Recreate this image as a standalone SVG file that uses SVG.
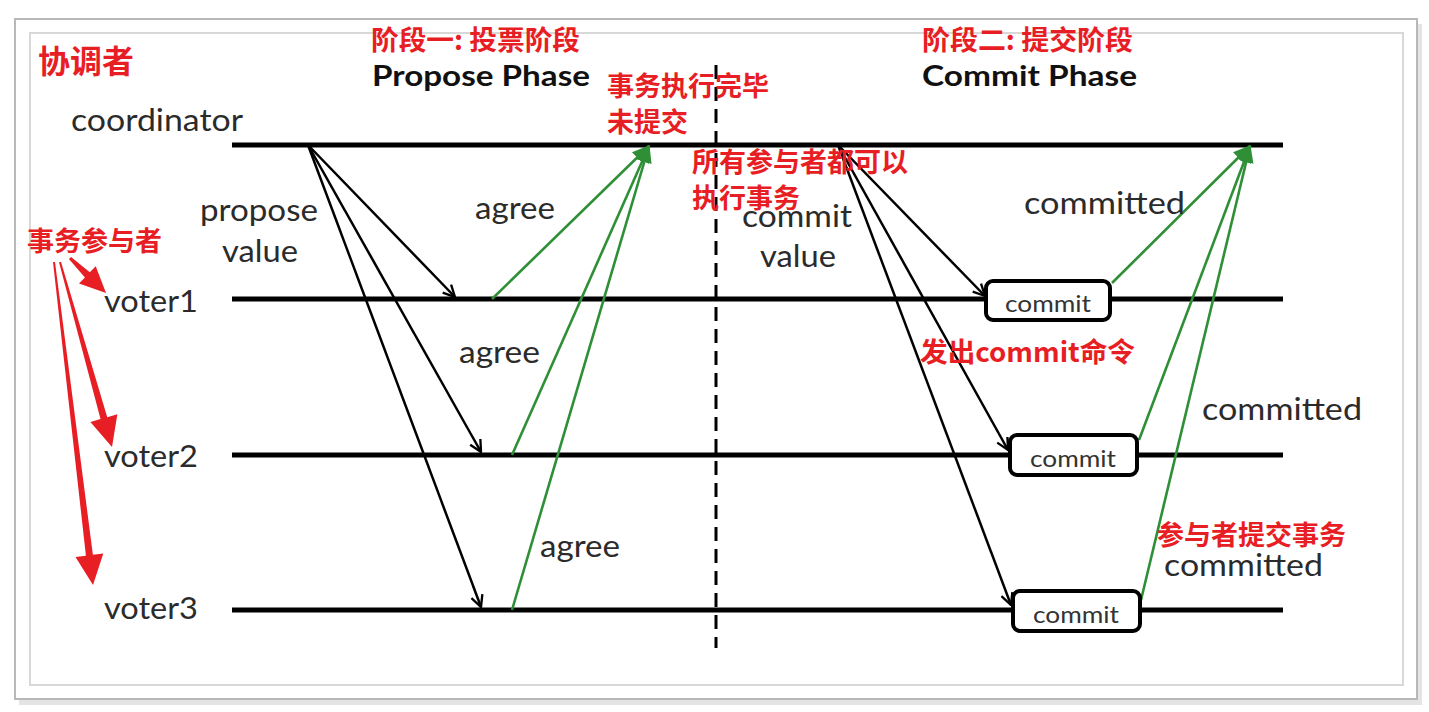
<svg xmlns="http://www.w3.org/2000/svg" width="1429" height="712" viewBox="0 0 1429 712">
<style>
.lbl{font-family:Lato,"Liberation Sans",sans-serif;font-size:30px;fill:#2b2b2b}
.hd{font-family:Lato,"Liberation Sans",sans-serif;font-size:28px;font-weight:bold;fill:#111}
.box-t{font-family:Lato,"Liberation Sans",sans-serif;font-size:23px;fill:#333}
.red{font-family:"Noto Sans CJK SC","Noto Sans",sans-serif;font-size:27px;font-weight:bold;fill:#e81e25}
.life{stroke:#000;stroke-width:5;fill:none}
.blk{stroke:#000;stroke-width:2.5;fill:none;marker-end:url(#ah)}
.grn{stroke:#2f8f37;stroke-width:2.6;fill:none;marker-end:url(#gh)}
.box{fill:#fff;stroke:#000;stroke-width:4}
.redarrow{fill:#e81e25}
</style>
<defs>
<marker id="ah" viewBox="0 0 12 12" refX="11" refY="6" markerWidth="14" markerHeight="14" markerUnits="userSpaceOnUse" orient="auto">
<path d="M1,1 L11,6 L1,11" fill="none" stroke="#000" stroke-width="2"/>
</marker>
<marker id="gh" viewBox="0 0 12 12" refX="11" refY="6" markerWidth="18" markerHeight="18" markerUnits="userSpaceOnUse" orient="auto">
<path d="M0,1 L12,6 L0,11 Z" fill="#2f8f37"/>
</marker>
</defs>
<rect x="0" y="0" width="1429" height="712" fill="#fff"/>
<g id="frame">
<rect x="19" y="24" width="1403" height="681" fill="#e4e4e4"/>
<rect x="15" y="19" width="1402" height="680" fill="#fff" stroke="#b8b8b8" stroke-width="2"/>
<rect x="30" y="33" width="1373" height="652" fill="#fff" stroke="#d8d8d8" stroke-width="2"/>
</g>
<g id="headers">
<text class="hd" x="372" y="86" textLength="218" lengthAdjust="spacingAndGlyphs">Propose Phase</text>
<text class="hd" x="922" y="86" textLength="215" lengthAdjust="spacingAndGlyphs">Commit Phase</text>
</g>
<g id="coordinator">
<line class="life" x1="232" y1="145" x2="1283" y2="145"/>
<text class="lbl" x="71" y="131" textLength="172" lengthAdjust="spacingAndGlyphs">coordinator</text>
</g>
<g id="voter1">
<line class="life" x1="232" y1="299" x2="1283" y2="299"/>
<text class="lbl" x="104" y="312" textLength="94" lengthAdjust="spacingAndGlyphs">voter1</text>
</g>
<g id="voter2">
<line class="life" x1="232" y1="455" x2="1283" y2="455"/>
<text class="lbl" x="104" y="467" textLength="94" lengthAdjust="spacingAndGlyphs">voter2</text>
</g>
<g id="voter3">
<line class="life" x1="232" y1="610" x2="1283" y2="610"/>
<text class="lbl" x="104" y="619" textLength="94" lengthAdjust="spacingAndGlyphs">voter3</text>
</g>
<g id="divider">
<line x1="716" y1="65" x2="716" y2="648" stroke="#000" stroke-width="3" stroke-dasharray="14 8"/>
</g>
<g id="connectors">
<line class="blk" x1="308" y1="145" x2="455" y2="297"/>
<line class="blk" x1="308" y1="145" x2="481" y2="452"/>
<line class="blk" x1="308" y1="145" x2="481" y2="607"/>
<line class="grn" x1="492" y1="299" x2="649" y2="146"/>
<line class="grn" x1="512" y1="455" x2="649" y2="146"/>
<line class="grn" x1="512" y1="610" x2="649" y2="146"/>
<line class="blk" x1="838" y1="145" x2="985" y2="296"/>
<line class="blk" x1="838" y1="145" x2="1008" y2="450"/>
<line class="blk" x1="838" y1="145" x2="1011" y2="605"/>
<line class="grn" x1="1112" y1="283" x2="1250" y2="146"/>
<line class="grn" x1="1139" y1="440" x2="1250" y2="146"/>
<line class="grn" x1="1141" y1="600" x2="1250" y2="146"/>
</g>
<g id="commit1">
<rect class="box" x="986" y="281" width="124" height="39" rx="7"/>
<text class="box-t" x="1005" y="312" textLength="86" lengthAdjust="spacingAndGlyphs">commit</text>
</g>
<g id="commit2">
<rect class="box" x="1010" y="435" width="127" height="40" rx="7"/>
<text class="box-t" x="1030" y="467" textLength="86" lengthAdjust="spacingAndGlyphs">commit</text>
</g>
<g id="commit3">
<rect class="box" x="1013" y="591" width="127" height="40" rx="7"/>
<text class="box-t" x="1033" y="623" textLength="86" lengthAdjust="spacingAndGlyphs">commit</text>
</g>
<g id="labels">
<text class="lbl" x="200" y="221" textLength="118" lengthAdjust="spacingAndGlyphs">propose</text>
<text class="lbl" x="222" y="262" textLength="76" lengthAdjust="spacingAndGlyphs">value</text>
<text class="lbl" x="475" y="219" textLength="80" lengthAdjust="spacingAndGlyphs">agree</text>
<text class="lbl" x="459" y="363" textLength="81" lengthAdjust="spacingAndGlyphs">agree</text>
<text class="lbl" x="540" y="557" textLength="80" lengthAdjust="spacingAndGlyphs">agree</text>
<text class="lbl" x="742" y="227" textLength="110" lengthAdjust="spacingAndGlyphs">commit</text>
<text class="lbl" x="760" y="267" textLength="76" lengthAdjust="spacingAndGlyphs">value</text>
<text class="lbl" x="1024" y="214" textLength="161" lengthAdjust="spacingAndGlyphs">committed</text>
<text class="lbl" x="1202" y="420" textLength="160" lengthAdjust="spacingAndGlyphs">committed</text>
<text class="lbl" x="1164" y="576" textLength="159" lengthAdjust="spacingAndGlyphs">committed</text>
</g>
<g id="annotations">
<text class="red" x="38" y="73" style="font-size:32px">协调者</text>
<text class="red" x="371" y="50" textLength="209" lengthAdjust="spacingAndGlyphs">阶段一: 投票阶段</text>
<text class="red" x="922" y="50" textLength="211" lengthAdjust="spacingAndGlyphs">阶段二: 提交阶段</text>
<text class="red" x="607" y="96">事务执行完毕</text>
<text class="red" x="607" y="132">未提交</text>
<text class="red" x="692" y="172">所有参与者都可以</text>
<text class="red" x="692" y="208">执行事务</text>
<text class="red" x="27" y="251">事务参与者</text>
<text class="red" x="920" y="362" textLength="215" lengthAdjust="spacingAndGlyphs">发出commit命令</text>
<text class="red" x="1157" y="545">参与者提交事务</text>
</g>
<g id="red-arrows">
<polygon class="redarrow" points="68.95,259.08 84.92,277.39 79.0,283.48 106,293 95.72,266.28 89.80,272.37 71.05,256.92"/>
<polygon class="redarrow" points="59.04,262.27 100.51,419.07 90.40,421.91 112,447 117.36,414.33 107.25,417.17 60.96,261.73"/>
<polygon class="redarrow" points="53.01,262.12 85.92,555.63 75.5,556.89 93,585 103.3,553.53 92.88,554.79 54.99,261.88"/>
</g>
</svg>
